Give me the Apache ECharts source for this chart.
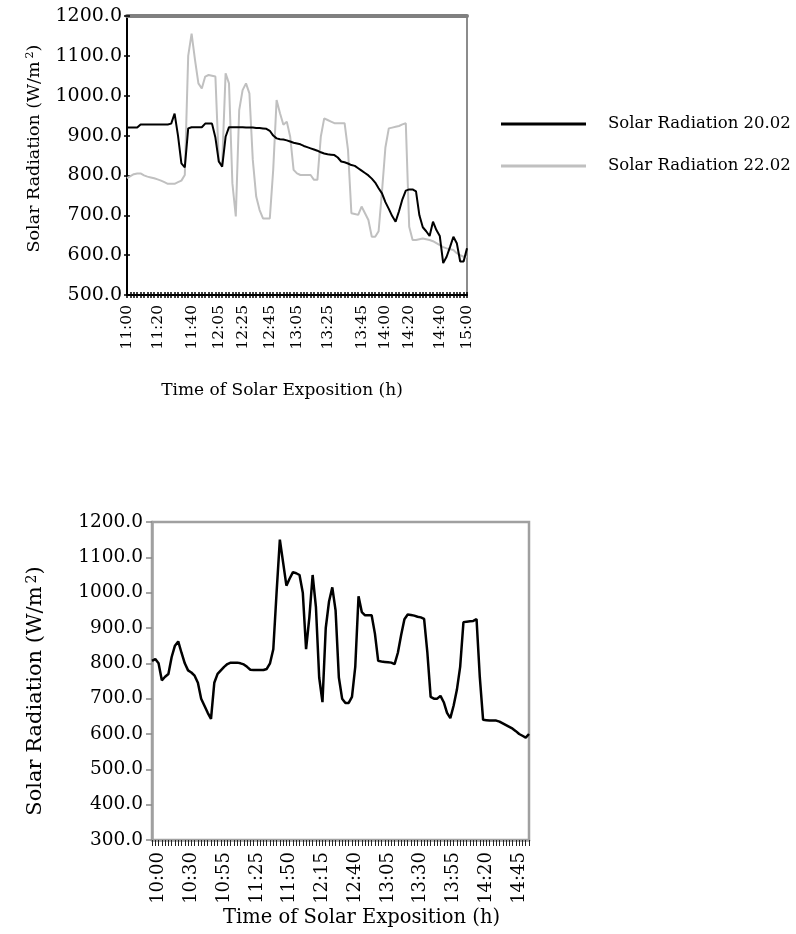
<!DOCTYPE html>
<html>
<head>
<meta charset="utf-8">
<script src="https://cdn.jsdelivr.net/npm/echarts@6/dist/echarts.min.js"></script>
<style>html,body{margin:0;padding:0;background:#fff}#c{width:796px;height:934px}</style>
</head>
<body>
<div id="c"></div>
<script>
// ---------- Top chart data ----------
const topTimes = [
'11:00','11:02','11:04','11:07','11:09','11:11','11:13','11:16','11:18','11:20',
'11:22','11:24','11:26','11:28','11:30','11:32','11:34','11:36','11:38','11:40',
'11:43','11:46','11:49','11:52','11:55','11:58','12:02','12:05',
'12:08','12:11','12:14','12:16','12:19','12:22','12:25',
'12:27','12:30','12:32','12:35','12:37','12:40','12:42','12:45',
'12:47','12:50','12:52','12:55','12:57','13:00','13:02','13:05',
'13:07','13:09','13:11','13:14','13:16','13:18','13:20','13:23','13:25',
'13:27','13:29','13:31','13:33','13:35','13:37','13:39','13:41','13:43','13:45',
'13:47','13:49','13:51','13:53','13:56','13:58','14:00',
'14:03','14:06','14:09','14:11','14:14','14:17','14:20',
'14:22','14:24','14:27','14:29','14:31','14:33','14:36','14:38','14:40',
'14:42','14:45','14:47','14:50','14:52','14:55','14:57','15:00'];
const topTickLabels = ['11:00','11:20','11:40','12:05','12:25','12:45','13:05','13:25','13:45','14:00','14:20','14:40','15:00'];
const radiation2002 = [
920,920,920,920,928,928,928,928,928,928,
928,928,928,930,955,900,830,820,918,921,
921,921,921,930,930,930,895,835,822,897,
921,921,921,921,921,920,920,920,919,919,
918,917,912,900,893,891,890,888,885,882,
880,878,874,871,868,865,862,858,855,853,
852,851,845,835,833,830,826,824,818,812,
806,800,792,782,768,755,733,716,698,684,
710,740,762,765,765,760,700,670,660,648,
684,663,648,580,596,620,646,630,584,584,
617];
const radiation2202 = [
793,798,803,805,805,800,797,795,793,790,
787,783,779,779,779,783,787,801,1100,1156,
1090,1031,1018,1048,1052,1050,1048,834,830,1056,
1031,780,697,964,1014,1031,1006,839,747,713,
692,692,692,814,989,956,927,935,897,814,
805,801,801,801,801,789,789,897,943,939,
935,931,931,931,931,864,705,703,701,722,
705,688,646,646,660,760,870,918,920,922,
924,928,931,671,638,638,640,642,640,638,
635,630,625,620,617,615,613,605,600,596,
596];
const topYTicks = {min: 500, max: 1200, step: 100};

// ---------- Bottom chart data ----------
const bottomTimes = [
'9:54','9:57','10:00','10:03','10:06','10:09','10:12','10:15','10:18','10:21','10:24','10:27','10:30',
'10:32','10:35','10:37','10:40','10:42','10:45','10:47','10:50','10:52','10:55',
'10:58','11:01','11:04','11:07','11:10','11:13','11:16','11:19','11:22','11:25',
'11:27','11:30','11:32','11:35','11:37','11:40','11:42','11:45','11:47','11:50',
'11:52','11:55','11:57','12:00','12:02','12:05','12:07','12:10','12:12','12:15',
'12:17','12:20','12:22','12:25','12:27','12:30','12:32','12:35','12:37','12:40',
'12:42','12:45','12:47','12:50','12:52','12:55','12:57','13:00','13:02','13:05',
'13:07','13:10','13:12','13:15','13:17','13:20','13:22','13:25','13:27','13:30',
'13:32','13:35','13:37','13:40','13:42','13:45','13:47','13:50','13:52','13:55',
'13:57','14:00','14:02','14:05','14:07','14:10','14:12','14:15','14:17','14:20',
'14:22','14:25','14:27','14:30','14:32','14:35','14:37','14:40','14:42','14:45',
'14:47','14:50','14:52'];
const bottomTickLabels = ['10:00','10:30','10:55','11:25','11:50','12:15','12:40','13:05','13:30','13:55','14:20','14:45'];
const radiationBottom = [
807,812,800,752,762,770,818,850,862,830,
800,780,774,765,745,700,680,660,643,745,
770,780,790,798,802,802,802,800,797,790,
782,781,781,781,781,784,800,840,1000,1150,
1085,1020,1040,1058,1055,1050,1000,840,930,1050,
960,760,690,900,975,1015,950,760,700,688,
688,705,790,990,945,936,936,936,884,807,
805,804,803,802,798,830,880,925,938,937,
935,932,930,926,830,705,700,700,708,690,
660,645,680,725,790,916,918,919,920,925,
760,640,639,638,638,638,635,630,625,620,
615,608,600,595,590,600];
const bottomYTicks = {min: 300, max: 1200, step: 100};

const seriesNames = ['Solar Radiation 20.02', 'Solar Radiation 22.02', 'Solar Radiation'];
const yTitle = 'Solar Radiation (W/m{sup|2})';
const xTitle = 'Time of Solar Exposition (h)';

// ---------- Chart ----------
const FONT = 'DejaVu Serif';
const chart = echarts.init(document.getElementById('c'), null, {renderer: 'canvas', width: 796, height: 934});
const fmt = v => Number(v).toFixed(1);
const supRich = (fs) => ({sup: {fontSize: fs, fontFamily: FONT, verticalAlign: 'top', padding: [0, 0, 0, 3]}});

const option = {
  animation: false,
  backgroundColor: '#ffffff',
  textStyle: {fontFamily: FONT, color: '#000'},
  legend: {
    data: [seriesNames[0], seriesNames[1]],
    orient: 'vertical', left: 496, top: 108,
    itemWidth: 85, itemHeight: 3, itemGap: 20, icon: 'rect',
    textStyle: {fontFamily: FONT, fontSize: 16.5, color: '#000', lineHeight: 22, padding: [0, 0, 0, 17]}
  },
  grid: [
    {left: 127, top: 16, width: 340, height: 279, show: true, borderColor: '#8c8c8c', borderWidth: 2, backgroundColor: '#fff'},
    {left: 152, top: 522, width: 377, height: 318, show: true, borderColor: '#a0a0a0', borderWidth: 2.5, backgroundColor: '#fff'}
  ],
  xAxis: [
    {
      gridIndex: 0, type: 'category', data: topTimes, boundaryGap: false, position: 'bottom',
      axisLine: {lineStyle: {color: '#000', width: 2}},
      axisTick: {interval: 0, length: 3, lineStyle: {color: '#000', width: 1.5}},
      axisLabel: {interval: (i, v) => topTickLabels.includes(v), rotate: 90, fontSize: 15.5, margin: 10, color: '#000', fontFamily: FONT},
      name: xTitle, nameLocation: 'middle', nameGap: 87,
      nameTextStyle: {fontFamily: FONT, fontSize: 17, color: '#000', padding: [0, 30, 0, 0]}
    },
    {
      gridIndex: 0, type: 'category', data: topTimes, boundaryGap: false, position: 'bottom',
      axisLine: {show: false},
      axisTick: {inside: true, interval: 0, length: 3, lineStyle: {color: '#000', width: 1.5}},
      axisLabel: {show: false}
    },
    {
      gridIndex: 0, type: 'category', data: topTimes, boundaryGap: false, position: 'top',
      axisLine: {lineStyle: {color: '#808080', width: 4}},
      axisTick: {show: false}, axisLabel: {show: false}
    },
    {
      gridIndex: 1, type: 'category', data: bottomTimes, boundaryGap: false, position: 'bottom',
      axisLine: {lineStyle: {color: '#a0a0a0', width: 2.5}},
      axisTick: {interval: 0, length: 6, lineStyle: {color: '#222', width: 1}},
      axisLabel: {interval: (i, v) => bottomTickLabels.includes(v), rotate: 90, fontSize: 18, margin: 12, color: '#000', fontFamily: FONT},
      name: xTitle, nameLocation: 'middle', nameGap: 65,
      nameTextStyle: {fontFamily: FONT, fontSize: 19.5, color: '#000', padding: [0, 0, 0, 42]}
    }
  ],
  yAxis: [
    {
      gridIndex: 0, type: 'value', position: 'left',
      min: topYTicks.min, max: topYTicks.max, interval: topYTicks.step,
      axisLine: {show: true, lineStyle: {color: '#000', width: 2}},
      axisTick: {show: true, length: 3, lineStyle: {color: '#000', width: 1.5}},
      splitLine: {show: false},
      axisLabel: {formatter: fmt, fontSize: 19, margin: 5, color: '#000', fontFamily: FONT},
      name: yTitle, nameLocation: 'middle', nameGap: 84,
      nameTextStyle: {fontFamily: FONT, fontSize: 17.5, color: '#000', rich: supRich(11), padding: [0, 0, 0, 14]}
    },
    {
      gridIndex: 0, type: 'value', position: 'left',
      min: topYTicks.min, max: topYTicks.max, interval: topYTicks.step,
      axisLine: {show: false},
      axisTick: {show: true, inside: true, length: 3, lineStyle: {color: '#000', width: 1.5}},
      splitLine: {show: false}, axisLabel: {show: false}
    },
    {
      gridIndex: 1, type: 'value', position: 'left',
      min: bottomYTicks.min, max: bottomYTicks.max, interval: bottomYTicks.step,
      axisLine: {show: true, lineStyle: {color: '#a0a0a0', width: 2.5}},
      axisTick: {show: true, length: 6, lineStyle: {color: '#888', width: 1.5}},
      splitLine: {show: false},
      axisLabel: {formatter: fmt, fontSize: 18.5, margin: 9, color: '#000', fontFamily: FONT},
      name: yTitle, nameLocation: 'middle', nameGap: 106,
      nameTextStyle: {fontFamily: FONT, fontSize: 21, color: '#000', rich: supRich(14), padding: [0, 20, 0, 0]}
    }
  ],
  series: [
    {
      name: seriesNames[0], type: 'line', xAxisIndex: 0, yAxisIndex: 0, data: radiation2002,
      showSymbol: false, symbol: 'none', color: '#000', lineStyle: {color: '#000', width: 2}, z: 3
    },
    {
      name: seriesNames[1], type: 'line', xAxisIndex: 0, yAxisIndex: 0, data: radiation2202,
      showSymbol: false, symbol: 'none', color: '#c0c0c0', lineStyle: {color: '#c0c0c0', width: 2}, z: 2
    },
    {
      name: seriesNames[2], type: 'line', xAxisIndex: 3, yAxisIndex: 2, data: radiationBottom,
      showSymbol: false, symbol: 'none', color: '#000', lineStyle: {color: '#000', width: 2.5}
    }
  ]
};
chart.setOption(option);
</script>
</body>
</html>
